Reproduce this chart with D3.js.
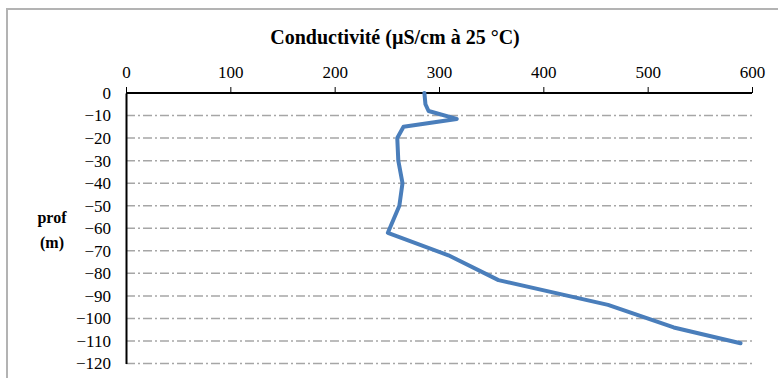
<!DOCTYPE html>
<html><head><meta charset="utf-8">
<script src="https://cdn.jsdelivr.net/npm/d3@7/dist/d3.min.js"></script>
<style>
html,body{margin:0;padding:0;background:#fff;}
svg{display:block;}
text{font-family:"Liberation Serif","Times New Roman",serif;fill:#000;}
</style></head>
<body>
<script>
const depths = [0, -5, -8, -11.5, -15, -20, -30, -40, -50, -62, -72, -83, -94, -104, -111];
const conductivity = [286, 287, 290, 317, 266, 260, 261, 265, 262, 251, 309, 357, 462, 525, 589];
const xTicks = [0, 100, 200, 300, 400, 500, 600];
const yTicks = [0, -10, -20, -30, -40, -50, -60, -70, -80, -90, -100, -110, -120];
const title = "Conductivité (µS/cm à 25 °C)";
const yLabel = ["prof", "(m)"];

const W = 778, H = 378;
const svg = d3.select("body").append("svg").attr("width", W).attr("height", H);

// chart frame
svg.append("rect").attr("x", 7).attr("y", 9).attr("width", W + 20).attr("height", H + 20)
  .attr("fill", "#fff").attr("stroke", "#b3b3b3").attr("stroke-width", 2);

const x = d3.scaleLinear().domain([0, 600]).range([126, 752]);
const y = d3.scaleLinear().domain([0, -120]).range([93, 363.5]);

// gridlines
svg.append("g").selectAll("line").data(yTicks.filter(d => d !== 0)).join("line")
  .attr("x1", x(0)).attr("x2", x(600))
  .attr("y1", d => y(d)).attr("y2", d => y(d))
  .attr("stroke", "#a6a6a6").attr("stroke-width", 1.5)
  .attr("stroke-dasharray", "9,3,2,3");

// top axis
const xAxis = d3.axisTop(x).tickValues(xTicks).tickSize(6).tickPadding(9).tickFormat(d3.format("d"));
const gx = svg.append("g").attr("transform", `translate(0,${y(0)})`).call(xAxis);
gx.select(".domain").attr("stroke", "#000").attr("stroke-width", 2).attr("d", `M${x(0)},0H${x(600)}`);
gx.selectAll(".tick line").attr("stroke", "#000").attr("stroke-width", 1);
gx.selectAll(".tick text").attr("font-size", 17).attr("font-family", "Liberation Serif");

// left axis
const yAxis = d3.axisLeft(y).tickValues(yTicks).tickSize(0).tickPadding(15).tickFormat(d3.format("d"));
const gy = svg.append("g").attr("transform", `translate(${x(0)},0)`).call(yAxis);
gy.select(".domain").attr("stroke", "#000").attr("stroke-width", 2);
gy.selectAll(".tick text").attr("font-size", 17).attr("font-family", "Liberation Serif");

// line
const data = depths.map((d, i) => ({d, v: conductivity[i]}));
svg.append("path").datum(data)
  .attr("fill", "none").attr("stroke", "#4a7ebb").attr("stroke-width", 4)
  .attr("stroke-linejoin", "round").attr("stroke-linecap", "round")
  .attr("d", d3.line().x(p => x(p.v)).y(p => y(p.d)));

// title
svg.append("text").attr("x", 395).attr("y", 44).attr("text-anchor", "middle")
  .attr("font-size", 20).attr("font-weight", "bold").text(title);

// y label
svg.append("text").attr("x", 52).attr("text-anchor", "middle")
  .attr("font-size", 16).attr("font-weight", "bold")
  .selectAll("tspan").data(yLabel).join("tspan")
  .attr("x", 52).attr("y", (d, i) => 223 + i * 25).text(d => d);
</script>
</body></html>
